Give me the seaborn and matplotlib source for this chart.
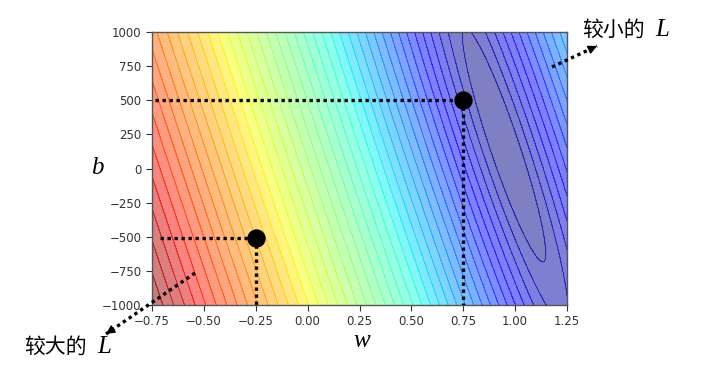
import numpy as np
import matplotlib
matplotlib.use("Agg")
import matplotlib.pyplot as plt
from matplotlib.lines import Line2D
from matplotlib.patches import FancyArrowPatch
import seaborn as sns

# ---- data -------------------------------------------------------------
x_data = [1365, 2065, 2715, 3265, 3765, 4165, 4665, 5215, 5865, 6565]
y_data = [1905, 1762, 3036, 2824, 3810, 4189, 4150, 5404, 5360, 6829]
w_range = [-0.75, 1.25]
b_range = [-1000, 1000]
x_ticks = [-0.75, -0.50, -0.25, 0.00, 0.25, 0.50, 0.75, 1.00, 1.25]
y_ticks = [-1000, -750, -500, -250, 0, 250, 500, 750, 1000]
point_w = [-0.25, 0.75]
point_b = [-510, 500]
label_small = "较小的"
label_large = "较大的"
loss_symbol = "L"
n_levels = 44

# ---- style ------------------------------------------------------------
sns.set_style("ticks")
plt.rcParams["font.family"] = ["DejaVu Sans"]

W_PX, H_PX = 709, 379
fig = plt.figure(figsize=(W_PX / 100, H_PX / 100), dpi=100)


def fx(px):
    return px / W_PX


def fy(py):
    return 1 - py / H_PX


ax = fig.add_axes([fx(152), fy(305), fx(567) - fx(152), fy(32) - fy(305)])

w = np.linspace(w_range[0], w_range[1], 500)
b = np.linspace(b_range[0], b_range[1], 500)
Wg, Bg = np.meshgrid(w, b)
xd = np.array(x_data, dtype=float)[:, None, None]
yd = np.array(y_data, dtype=float)[:, None, None]
L = np.mean((yd - Bg - Wg * xd) ** 2, axis=0) ** 0.4

levels = np.linspace(L.min(), L.max(), n_levels)
ax.contourf(Wg, Bg, L, levels=levels, cmap="jet", alpha=0.5)
ax.contour(Wg, Bg, L, levels=levels, cmap="jet", alpha=0.35, linewidths=0.8)

# dotted guide lines
dot_style = dict(color="black", lw=2.4, linestyle=(0, (1, 1.1)), zorder=4)
ax.plot([w_range[0] + 0.015, point_w[1]], [point_b[1], point_b[1]], **dot_style)
ax.plot([point_w[1], point_w[1]], [point_b[1], b_range[0]], **dot_style)
ax.plot([w_range[0] + 0.04, point_w[0]], [point_b[0], point_b[0]], **dot_style)
ax.plot([point_w[0], point_w[0]], [point_b[0], b_range[0]], **dot_style)

sns.scatterplot(x=point_w, y=point_b, s=150, color="black", edgecolor="black",
                ax=ax, zorder=5, legend=False)

ax.set_xlim(w_range)
ax.set_ylim(b_range)
ax.set_xticks(x_ticks)
ax.set_yticks(y_ticks)
ax.set_xticklabels([f"{t:.2f}".replace("-", "\u2212") for t in x_ticks])
ax.set_yticklabels([f"{t}".replace("-", "\u2212") for t in y_ticks])
ax.tick_params(labelsize=8.5, colors="#333333", length=4, width=0.8)
for s in ax.spines.values():
    s.set_color("#555555")
    s.set_linewidth(1.0)
ax.set_xlabel("")
ax.set_ylabel("")

# axis letters
serif_it = dict(family="Liberation Serif", style="italic", color="black")
fig.text(fx(362), fy(341), "w", fontsize=18, ha="center", va="center", **serif_it)
fig.text(fx(97), fy(168), "b", fontsize=18, ha="center", va="center", **serif_it)

# annotations
cjk = dict(family=["Noto Sans CJK SC", "DejaVu Sans"], color="black")
fig.text(fx(582), fy(30), label_small, fontsize=15, ha="left", va="center", **cjk)
fig.text(fx(655), fy(30), loss_symbol, fontsize=18, ha="left", va="center", **serif_it)
fig.text(fx(24), fy(347), label_large, fontsize=15, ha="left", va="center", **cjk)
fig.text(fx(97), fy(347), loss_symbol, fontsize=18, ha="left", va="center", **serif_it)


def dotted_arrow(x0, y0, x1, y1):
    fig.add_artist(Line2D([fx(x0), fx(x1)], [fy(y0), fy(y1)], color="black",
                          lw=2.4, linestyle=(0, (1, 1.1)), transform=fig.transFigure))
    dx, dy = x1 - x0, y1 - y0
    n = np.hypot(dx, dy)
    sx, sy = x1 - dx / n * 3, y1 - dy / n * 3
    fig.add_artist(FancyArrowPatch(
        (fx(sx), fy(sy)), (fx(x1), fy(y1)), transform=fig.transFigure,
        arrowstyle="-|>", mutation_scale=13, color="black", lw=1,
        shrinkA=0, shrinkB=0))


dotted_arrow(552, 67, 597, 46)
dotted_arrow(195, 273, 106, 334)

fig.savefig("out.png", dpi=100)
